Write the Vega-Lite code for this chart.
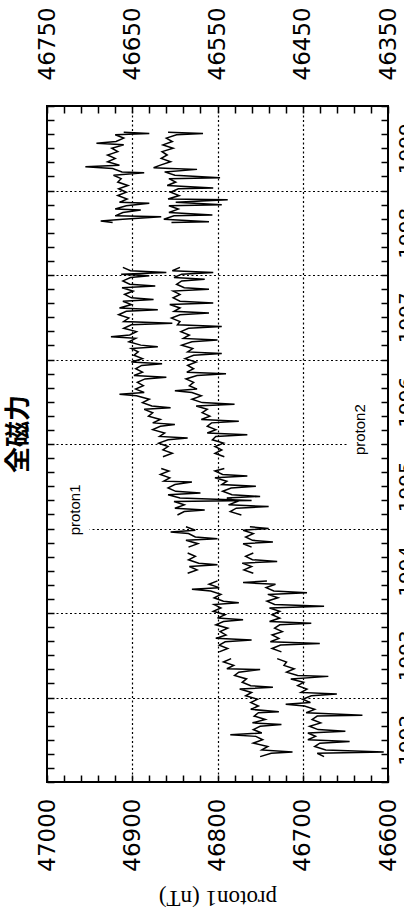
{
"$schema":"https://vega.github.io/schema/vega-lite/v6.json",
"width":341,"height":676,
"autosize":{"type":"none"},
"padding":{"left":47,"top":106,"right":16,"bottom":129},
"background":"white",
"title":{"text":"全磁力","orient":"left","anchor":"middle","font":"Noto Sans CJK JP","fontSize":26,"fontWeight":"bold","color":"black","offset":4,"dx":10},
"config":{"view":{"stroke":"black","strokeWidth":2,"fill":"white"},"font":"DejaVu Sans"},
"datasets":{
"p1":[
{"t":1992.3,"v":46750,"s":1},{"t":1992.34,"v":46737,"s":1},{"t":1992.355,"v":46712,"s":1},{"t":1992.38,"v":46748,"s":1},{"t":1992.42,"v":46741,"s":1},{"t":1992.46,"v":46758,"s":1},{"t":1992.5,"v":46747,"s":1},{"t":1992.54,"v":46755,"s":1},{"t":1992.56,"v":46785,"s":1},{"t":1992.58,"v":46748,"s":1},{"t":1992.62,"v":46758,"s":1},{"t":1992.66,"v":46750,"s":1},{"t":1992.68,"v":46725,"s":1},{"t":1992.7,"v":46759,"s":1},{"t":1992.74,"v":46744,"s":1},{"t":1992.78,"v":46757,"s":1},{"t":1992.82,"v":46752,"s":1},{"t":1992.83,"v":46728,"s":1},{"t":1992.86,"v":46761,"s":1},{"t":1992.9,"v":46752,"s":1},{"t":1992.94,"v":46761,"s":1},{"t":1992.98,"v":46753,"s":1},{"t":1993.02,"v":46767,"s":1},{"t":1993.06,"v":46760,"s":1},{"t":1993.1,"v":46774,"s":1},{"t":1993.12,"v":46735,"s":1},{"t":1993.14,"v":46761,"s":1},{"t":1993.18,"v":46771,"s":1},{"t":1993.22,"v":46766,"s":1},{"t":1993.26,"v":46780,"s":1},{"t":1993.3,"v":46775,"s":1},{"t":1993.33,"v":46750,"s":1},{"t":1993.34,"v":46789,"s":1},{"t":1993.38,"v":46781,"s":1},{"t":1993.42,"v":46793,"s":1},{"t":1993.46,"v":46784,"s":1},
{"t":1993.54,"v":46798,"s":2},{"t":1993.58,"v":46788,"s":2},{"t":1993.62,"v":46798,"s":2},{"t":1993.66,"v":46791,"s":2},{"t":1993.68,"v":46760,"s":2},{"t":1993.7,"v":46802,"s":2},{"t":1993.74,"v":46790,"s":2},{"t":1993.78,"v":46797,"s":2},{"t":1993.82,"v":46788,"s":2},{"t":1993.86,"v":46802,"s":2},{"t":1993.9,"v":46793,"s":2},{"t":1993.92,"v":46770,"s":2},{"t":1993.94,"v":46800,"s":2},{"t":1993.98,"v":46791,"s":2},{"t":1994.02,"v":46805,"s":2},{"t":1994.06,"v":46796,"s":2},{"t":1994.1,"v":46804,"s":2},{"t":1994.12,"v":46775,"s":2},{"t":1994.14,"v":46793,"s":2},{"t":1994.18,"v":46804,"s":2},{"t":1994.22,"v":46796,"s":2},{"t":1994.26,"v":46808,"s":2},{"t":1994.28,"v":46830,"s":2},{"t":1994.3,"v":46798,"s":2},{"t":1994.34,"v":46810,"s":2},{"t":1994.38,"v":46800,"s":2},
{"t":1994.47,"v":46835,"s":3},{"t":1994.51,"v":46824,"s":3},{"t":1994.55,"v":46833,"s":3},{"t":1994.57,"v":46800,"s":3},{"t":1994.59,"v":46822,"s":3},{"t":1994.63,"v":46834,"s":3},{"t":1994.67,"v":46826,"s":3},{"t":1994.71,"v":46835,"s":3},
{"t":1994.78,"v":46834,"s":4},{"t":1994.82,"v":46823,"s":4},{"t":1994.86,"v":46837,"s":4},{"t":1994.88,"v":46800,"s":4},{"t":1994.9,"v":46826,"s":4},{"t":1994.94,"v":46834,"s":4},{"t":1994.96,"v":46855,"s":4},{"t":1994.98,"v":46826,"s":4},{"t":1995.02,"v":46837,"s":4},
{"t":1995.16,"v":46847,"s":5},{"t":1995.2,"v":46839,"s":5},{"t":1995.22,"v":46815,"s":5},{"t":1995.24,"v":46850,"s":5},{"t":1995.28,"v":46839,"s":5},{"t":1995.32,"v":46851,"s":5},{"t":1995.33,"v":46760,"s":5},{"t":1995.36,"v":46844,"s":5},{"t":1995.4,"v":46858,"s":5},{"t":1995.42,"v":46820,"s":5},{"t":1995.44,"v":46849,"s":5},{"t":1995.48,"v":46858,"s":5},{"t":1995.52,"v":46850,"s":5},{"t":1995.55,"v":46830,"s":5},{"t":1995.56,"v":46863,"s":5},{"t":1995.6,"v":46856,"s":5},{"t":1995.64,"v":46867,"s":5},{"t":1995.68,"v":46857,"s":5},{"t":1995.71,"v":46866,"s":5},
{"t":1995.85,"v":46864,"s":6},{"t":1995.89,"v":46853,"s":6},{"t":1995.93,"v":46864,"s":6},{"t":1995.97,"v":46858,"s":6},{"t":1996.01,"v":46869,"s":6},{"t":1996.05,"v":46858,"s":6},{"t":1996.07,"v":46835,"s":6},{"t":1996.09,"v":46868,"s":6},{"t":1996.13,"v":46862,"s":6},{"t":1996.17,"v":46876,"s":6},{"t":1996.21,"v":46867,"s":6},{"t":1996.23,"v":46850,"s":6},{"t":1996.25,"v":46876,"s":6},{"t":1996.29,"v":46867,"s":6},{"t":1996.33,"v":46881,"s":6},{"t":1996.37,"v":46876,"s":6},{"t":1996.41,"v":46886,"s":6},{"t":1996.43,"v":46855,"s":6},{"t":1996.45,"v":46877,"s":6},{"t":1996.49,"v":46888,"s":6},{"t":1996.53,"v":46880,"s":6},{"t":1996.57,"v":46895,"s":6},{"t":1996.59,"v":46915,"s":6},{"t":1996.61,"v":46886,"s":6},{"t":1996.65,"v":46896,"s":6},{"t":1996.69,"v":46887,"s":6},{"t":1996.73,"v":46894,"s":6},{"t":1996.77,"v":46885,"s":6},{"t":1996.79,"v":46860,"s":6},{"t":1996.81,"v":46898,"s":6},{"t":1996.85,"v":46888,"s":6},{"t":1996.89,"v":46896,"s":6},{"t":1996.93,"v":46889,"s":6},{"t":1996.95,"v":46865,"s":6},{"t":1996.97,"v":46901,"s":6},{"t":1997.01,"v":46888,"s":6},{"t":1997.05,"v":46898,"s":6},{"t":1997.09,"v":46893,"s":6},{"t":1997.13,"v":46901,"s":6},{"t":1997.15,"v":46870,"s":6},{"t":1997.17,"v":46890,"s":6},{"t":1997.21,"v":46904,"s":6},{"t":1997.25,"v":46896,"s":6},{"t":1997.27,"v":46925,"s":6},{"t":1997.29,"v":46903,"s":6},{"t":1997.33,"v":46895,"s":6},{"t":1997.37,"v":46910,"s":6},{"t":1997.41,"v":46901,"s":6},{"t":1997.43,"v":46853,"s":6},{"t":1997.45,"v":46910,"s":6},{"t":1997.49,"v":46904,"s":6},{"t":1997.53,"v":46916,"s":6},{"t":1997.57,"v":46907,"s":6},{"t":1997.59,"v":46870,"s":6},{"t":1997.61,"v":46915,"s":6},{"t":1997.65,"v":46901,"s":6},{"t":1997.69,"v":46911,"s":6},{"t":1997.71,"v":46875,"s":6},{"t":1997.73,"v":46901,"s":6},{"t":1997.77,"v":46909,"s":6},{"t":1997.81,"v":46899,"s":6},{"t":1997.85,"v":46912,"s":6},{"t":1997.87,"v":46873,"s":6},{"t":1997.89,"v":46903,"s":6},{"t":1997.93,"v":46911,"s":6},{"t":1997.97,"v":46902,"s":6},{"t":1997.99,"v":46880,"s":6},{"t":1998.01,"v":46913,"s":6},{"t":1998.03,"v":46860,"s":6},{"t":1998.05,"v":46902,"s":6},{"t":1998.09,"v":46911,"s":6},
{"t":1998.62,"v":46923,"s":7},{"t":1998.64,"v":46937,"s":7},{"t":1998.66,"v":46911,"s":7},{"t":1998.69,"v":46866,"s":7},{"t":1998.7,"v":46920,"s":7},{"t":1998.74,"v":46911,"s":7},{"t":1998.77,"v":46890,"s":7},{"t":1998.78,"v":46920,"s":7},{"t":1998.82,"v":46907,"s":7},{"t":1998.85,"v":46880,"s":7},{"t":1998.86,"v":46915,"s":7},{"t":1998.9,"v":46906,"s":7},{"t":1998.94,"v":46917,"s":7},{"t":1998.98,"v":46907,"s":7},{"t":1999.02,"v":46916,"s":7},{"t":1999.06,"v":46905,"s":7},{"t":1999.1,"v":46917,"s":7},{"t":1999.14,"v":46913,"s":7},{"t":1999.18,"v":46922,"s":7},{"t":1999.21,"v":46886,"s":7},{"t":1999.22,"v":46912,"s":7},{"t":1999.26,"v":46923,"s":7},{"t":1999.28,"v":46955,"s":7},{"t":1999.3,"v":46915,"s":7},{"t":1999.34,"v":46929,"s":7},{"t":1999.38,"v":46920,"s":7},{"t":1999.42,"v":46929,"s":7},{"t":1999.46,"v":46917,"s":7},{"t":1999.5,"v":46924,"s":7},{"t":1999.54,"v":46910,"s":7},{"t":1999.56,"v":46942,"s":7},{"t":1999.58,"v":46919,"s":7},{"t":1999.62,"v":46910,"s":7},{"t":1999.66,"v":46920,"s":7},{"t":1999.675,"v":46880,"s":7},{"t":1999.69,"v":46910,"s":7}
],
"p2":[
{"t":1992.3,"v":46425,"s":1},{"t":1992.34,"v":46433,"s":1},{"t":1992.355,"v":46355,"s":1},{"t":1992.38,"v":46423,"s":1},{"t":1992.42,"v":46436,"s":1},{"t":1992.46,"v":46430,"s":1},{"t":1992.48,"v":46395,"s":1},{"t":1992.5,"v":46444,"s":1},{"t":1992.54,"v":46435,"s":1},{"t":1992.58,"v":46444,"s":1},{"t":1992.6,"v":46400,"s":1},{"t":1992.62,"v":46432,"s":1},{"t":1992.66,"v":46442,"s":1},{"t":1992.7,"v":46429,"s":1},{"t":1992.74,"v":46439,"s":1},{"t":1992.78,"v":46433,"s":1},{"t":1992.79,"v":46380,"s":1},{"t":1992.82,"v":46446,"s":1},{"t":1992.86,"v":46436,"s":1},{"t":1992.9,"v":46448,"s":1},{"t":1992.92,"v":46470,"s":1},{"t":1992.94,"v":46441,"s":1},{"t":1992.98,"v":46450,"s":1},{"t":1993.02,"v":46440,"s":1},{"t":1993.04,"v":46410,"s":1},{"t":1993.06,"v":46452,"s":1},{"t":1993.1,"v":46445,"s":1},{"t":1993.14,"v":46456,"s":1},{"t":1993.18,"v":46449,"s":1},{"t":1993.22,"v":46464,"s":1},{"t":1993.25,"v":46420,"s":1},{"t":1993.26,"v":46456,"s":1},{"t":1993.3,"v":46469,"s":1},{"t":1993.34,"v":46460,"s":1},{"t":1993.38,"v":46472,"s":1},{"t":1993.42,"v":46469,"s":1},{"t":1993.46,"v":46480,"s":1},
{"t":1993.54,"v":46475,"s":2},{"t":1993.58,"v":46486,"s":2},{"t":1993.62,"v":46476,"s":2},{"t":1993.64,"v":46430,"s":2},{"t":1993.66,"v":46488,"s":2},{"t":1993.7,"v":46478,"s":2},{"t":1993.74,"v":46486,"s":2},{"t":1993.78,"v":46474,"s":2},{"t":1993.82,"v":46483,"s":2},{"t":1993.86,"v":46477,"s":2},{"t":1993.88,"v":46440,"s":2},{"t":1993.9,"v":46489,"s":2},{"t":1993.94,"v":46477,"s":2},{"t":1993.98,"v":46486,"s":2},{"t":1994.02,"v":46477,"s":2},{"t":1994.06,"v":46489,"s":2},{"t":1994.08,"v":46425,"s":2},{"t":1994.1,"v":46483,"s":2},{"t":1994.14,"v":46492,"s":2},{"t":1994.18,"v":46479,"s":2},{"t":1994.22,"v":46491,"s":2},{"t":1994.24,"v":46445,"s":2},{"t":1994.26,"v":46484,"s":2},{"t":1994.3,"v":46493,"s":2},{"t":1994.34,"v":46482,"s":2},{"t":1994.36,"v":46520,"s":2},{"t":1994.38,"v":46492,"s":2},
{"t":1994.47,"v":46508,"s":3},{"t":1994.51,"v":46519,"s":3},{"t":1994.55,"v":46510,"s":3},{"t":1994.59,"v":46521,"s":3},{"t":1994.61,"v":46480,"s":3},{"t":1994.63,"v":46509,"s":3},{"t":1994.67,"v":46517,"s":3},{"t":1994.71,"v":46508,"s":3},
{"t":1994.78,"v":46510,"s":4},{"t":1994.82,"v":46520,"s":4},{"t":1994.84,"v":46485,"s":4},{"t":1994.86,"v":46509,"s":4},{"t":1994.9,"v":46517,"s":4},{"t":1994.94,"v":46508,"s":4},{"t":1994.98,"v":46520,"s":4},{"t":1995.0,"v":46490,"s":4},{"t":1995.02,"v":46512,"s":4},
{"t":1995.16,"v":46522,"s":5},{"t":1995.2,"v":46535,"s":5},{"t":1995.24,"v":46528,"s":5},{"t":1995.26,"v":46490,"s":5},{"t":1995.28,"v":46537,"s":5},{"t":1995.32,"v":46527,"s":5},{"t":1995.36,"v":46539,"s":5},{"t":1995.38,"v":46500,"s":5},{"t":1995.4,"v":46533,"s":5},{"t":1995.44,"v":46544,"s":5},{"t":1995.48,"v":46534,"s":5},{"t":1995.5,"v":46505,"s":5},{"t":1995.52,"v":46545,"s":5},{"t":1995.56,"v":46539,"s":5},{"t":1995.6,"v":46553,"s":5},{"t":1995.62,"v":46515,"s":5},{"t":1995.64,"v":46544,"s":5},{"t":1995.68,"v":46553,"s":5},{"t":1995.71,"v":46542,"s":5},
{"t":1995.85,"v":46542,"s":6},{"t":1995.89,"v":46553,"s":6},{"t":1995.93,"v":46545,"s":6},{"t":1995.97,"v":46553,"s":6},{"t":1996.01,"v":46543,"s":6},{"t":1996.05,"v":46556,"s":6},{"t":1996.09,"v":46552,"s":6},{"t":1996.11,"v":46515,"s":6},{"t":1996.13,"v":46562,"s":6},{"t":1996.17,"v":46552,"s":6},{"t":1996.21,"v":46562,"s":6},{"t":1996.25,"v":46557,"s":6},{"t":1996.27,"v":46525,"s":6},{"t":1996.29,"v":46569,"s":6},{"t":1996.33,"v":46559,"s":6},{"t":1996.37,"v":46568,"s":6},{"t":1996.41,"v":46562,"s":6},{"t":1996.45,"v":46575,"s":6},{"t":1996.47,"v":46530,"s":6},{"t":1996.49,"v":46568,"s":6},{"t":1996.53,"v":46580,"s":6},{"t":1996.57,"v":46569,"s":6},{"t":1996.61,"v":46580,"s":6},{"t":1996.63,"v":46600,"s":6},{"t":1996.65,"v":46574,"s":6},{"t":1996.69,"v":46583,"s":6},{"t":1996.73,"v":46578,"s":6},{"t":1996.77,"v":46587,"s":6},{"t":1996.81,"v":46574,"s":6},{"t":1996.83,"v":46540,"s":6},{"t":1996.85,"v":46586,"s":6},{"t":1996.89,"v":46578,"s":6},{"t":1996.93,"v":46585,"s":6},{"t":1996.97,"v":46575,"s":6},{"t":1997.01,"v":46588,"s":6},{"t":1997.05,"v":46578,"s":6},{"t":1997.07,"v":46545,"s":6},{"t":1997.09,"v":46585,"s":6},{"t":1997.13,"v":46579,"s":6},{"t":1997.17,"v":46592,"s":6},{"t":1997.21,"v":46580,"s":6},{"t":1997.23,"v":46550,"s":6},{"t":1997.25,"v":46590,"s":6},{"t":1997.29,"v":46583,"s":6},{"t":1997.33,"v":46593,"s":6},{"t":1997.37,"v":46584,"s":6},{"t":1997.39,"v":46545,"s":6},{"t":1997.41,"v":46597,"s":6},{"t":1997.45,"v":46594,"s":6},{"t":1997.49,"v":46604,"s":6},{"t":1997.53,"v":46594,"s":6},{"t":1997.55,"v":46560,"s":6},{"t":1997.57,"v":46601,"s":6},{"t":1997.61,"v":46594,"s":6},{"t":1997.65,"v":46606,"s":6},{"t":1997.67,"v":46555,"s":6},{"t":1997.69,"v":46594,"s":6},{"t":1997.73,"v":46602,"s":6},{"t":1997.77,"v":46594,"s":6},{"t":1997.81,"v":46602,"s":6},{"t":1997.83,"v":46560,"s":6},{"t":1997.85,"v":46589,"s":6},{"t":1997.89,"v":46598,"s":6},{"t":1997.93,"v":46592,"s":6},{"t":1997.95,"v":46565,"s":6},{"t":1997.97,"v":46601,"s":6},{"t":1998.01,"v":46592,"s":6},{"t":1998.03,"v":46555,"s":6},{"t":1998.05,"v":46603,"s":6},{"t":1998.09,"v":46594,"s":6},
{"t":1998.62,"v":46604,"s":7},{"t":1998.63,"v":46560,"s":7},{"t":1998.66,"v":46613,"s":7},{"t":1998.7,"v":46601,"s":7},{"t":1998.71,"v":46556,"s":7},{"t":1998.74,"v":46607,"s":7},{"t":1998.78,"v":46596,"s":7},{"t":1998.82,"v":46607,"s":7},{"t":1998.83,"v":46545,"s":7},{"t":1998.86,"v":46599,"s":7},{"t":1998.89,"v":46538,"s":7},{"t":1998.9,"v":46608,"s":7},{"t":1998.94,"v":46595,"s":7},{"t":1998.98,"v":46605,"s":7},{"t":1999.02,"v":46596,"s":7},{"t":1999.03,"v":46555,"s":7},{"t":1999.06,"v":46609,"s":7},{"t":1999.1,"v":46599,"s":7},{"t":1999.14,"v":46607,"s":7},{"t":1999.15,"v":46547,"s":7},{"t":1999.18,"v":46600,"s":7},{"t":1999.22,"v":46612,"s":7},{"t":1999.25,"v":46574,"s":7},{"t":1999.26,"v":46605,"s":7},{"t":1999.27,"v":46625,"s":7},{"t":1999.3,"v":46617,"s":7},{"t":1999.34,"v":46605,"s":7},{"t":1999.38,"v":46616,"s":7},{"t":1999.42,"v":46609,"s":7},{"t":1999.46,"v":46615,"s":7},{"t":1999.5,"v":46602,"s":7},{"t":1999.54,"v":46614,"s":7},{"t":1999.58,"v":46603,"s":7},{"t":1999.62,"v":46610,"s":7},{"t":1999.66,"v":46598,"s":7},{"t":1999.675,"v":46567,"s":7},{"t":1999.69,"v":46608,"s":7}
]
},
"layer":[
{"layer":[
 {"data":{"name":"p1"},"mark":{"type":"line","color":"black","strokeWidth":1.5},
  "encoding":{
   "x":{"field":"v","type":"quantitative","scale":{"domain":[46600,47000],"reverse":true,"nice":false,"zero":false},
    "axis":{"orient":"bottom","tickCount":200,"values":[46600,46620,46640,46660,46680,46700,46720,46740,46760,46780,46800,46820,46840,46860,46880,46900,46920,46940,46960,46980,47000],
     "format":"d","labelExpr":"datum.value % 100 === 0 ? datum.label : ''","labelAngle":270,"labelFont":"DejaVu Sans","labelFontSize":23,"labelColor":"black","labelPadding":23,"labelOverlap":false,"labelFlush":false,"labelBound":false,
     "tickSize":-7,"tickColor":"black","tickWidth":1.5,"domain":false,
     "grid":true,"gridColor":"black","gridDash":[2,2.5],"gridWidth":1.2,
     "gridOpacity":{"condition":{"test":"datum.value % 100 === 0 && datum.value > 46600 && datum.value < 47000","value":1},"value":0},
     "title":"proton1 (nT)","titleFont":"Liberation Serif","titleFontSize":23,"titleFontWeight":"normal","titleColor":"black","titleAngle":180,"titleBaseline":"bottom","titlePadding":14}},
   "y":{"field":"t","type":"quantitative","scale":{"domain":[1992,2000],"nice":false,"zero":false},
    "axis":{"orient":"left","tickCount":200,"values":[1992,1992.1667,1992.3333,1992.5,1992.6667,1992.8333,1993,1993.1667,1993.3333,1993.5,1993.6667,1993.8333,1994,1994.1667,1994.3333,1994.5,1994.6667,1994.8333,1995,1995.1667,1995.3333,1995.5,1995.6667,1995.8333,1996,1996.1667,1996.3333,1996.5,1996.6667,1996.8333,1997,1997.1667,1997.3333,1997.5,1997.6667,1997.8333,1998,1998.1667,1998.3333,1998.5,1998.6667,1998.8333,1999,1999.1667,1999.3333,1999.5,1999.6667,1999.8333,2000],
     "labels":false,"grid":false,"domain":false,"tickSize":-7,"tickColor":"black","tickWidth":1.5,"title":null}},
   "order":{"field":"t","type":"quantitative"},
   "detail":{"field":"s","type":"nominal"}}},
 {"data":{"values":[{}]},"mark":{"type":"rect","color":"white"},
  "encoding":{"x":{"datum":46990,"type":"quantitative"},"x2":{"datum":46950},"y":{"datum":1994.93,"type":"quantitative"},"y2":{"datum":1995.5}}},
 {"data":{"values":[{}]},"mark":{"type":"text","angle":270,"font":"Liberation Sans","fontSize":15,"color":"black","align":"center","baseline":"middle"},
  "encoding":{"x":{"datum":46967,"type":"quantitative"},"y":{"datum":1995.22,"type":"quantitative"},"text":{"value":"proton1"}}}
]},
{"layer":[
 {"data":{"name":"p2"},"mark":{"type":"line","color":"black","strokeWidth":1.5},
  "encoding":{
   "x":{"field":"v","type":"quantitative","scale":{"domain":[46350,46750],"reverse":true,"nice":false,"zero":false},
    "axis":{"orient":"top","tickCount":200,"values":[46350,46370,46390,46410,46430,46450,46470,46490,46510,46530,46550,46570,46590,46610,46630,46650,46670,46690,46710,46730,46750],
     "format":"d","labelExpr":"datum.value % 100 === 50 ? datum.label : ''","labelAngle":270,"labelFont":"DejaVu Sans","labelFontSize":23,"labelColor":"black","labelPadding":33,"labelOverlap":false,"labelFlush":false,"labelBound":false,
     "tickSize":-7,"tickColor":"black","tickWidth":1.5,"domain":false,"grid":false,"title":null}},
   "y":{"field":"t","type":"quantitative","scale":{"domain":[1992,2000],"nice":false,"zero":false},
    "axis":{"orient":"right","tickCount":200,"values":[1992,1992.1667,1992.3333,1992.5,1992.6667,1992.8333,1993,1993.1667,1993.3333,1993.5,1993.6667,1993.8333,1994,1994.1667,1994.3333,1994.5,1994.6667,1994.8333,1995,1995.1667,1995.3333,1995.5,1995.6667,1995.8333,1996,1996.1667,1996.3333,1996.5,1996.6667,1996.8333,1997,1997.1667,1997.3333,1997.5,1997.6667,1997.8333,1998,1998.1667,1998.3333,1998.5,1998.6667,1998.8333,1999,1999.1667,1999.3333,1999.5,1999.6667,1999.8333,2000],
     "labelExpr":"abs(datum.value - floor(datum.value) - 0.5) < 0.01 ? '' + floor(datum.value) : ''","labelAngle":270,"labelFont":"DejaVu Sans","labelFontSize":20,"labelColor":"black","labelPadding":15,"labelOverlap":false,"labelFlush":false,"labelBound":false,
     "tickSize":-7,"tickColor":"black","tickWidth":1.5,"domain":false,
     "grid":true,"gridColor":"black","gridDash":[2,2.5],"gridWidth":1.2,
     "gridOpacity":{"condition":{"test":"abs(datum.value - round(datum.value)) < 0.01 && datum.value > 1992.5 && datum.value < 1999.5","value":1},"value":0},
     "title":null}},
   "order":{"field":"t","type":"quantitative"},
   "detail":{"field":"s","type":"nominal"}}},
 {"data":{"values":[{}]},"mark":{"type":"rect","color":"white"},
  "encoding":{"x":{"datum":46398,"type":"quantitative"},"x2":{"datum":46358},"y":{"datum":1995.9,"type":"quantitative"},"y2":{"datum":1996.45}}},
 {"data":{"values":[{}]},"mark":{"type":"text","angle":270,"font":"Liberation Sans","fontSize":15,"color":"black","align":"center","baseline":"middle"},
  "encoding":{"x":{"datum":46383,"type":"quantitative"},"y":{"datum":1996.17,"type":"quantitative"},"text":{"value":"proton2"}}}
]}
],
"resolve":{"scale":{"x":"independent"},"axis":{"x":"independent","y":"independent"}}
}
